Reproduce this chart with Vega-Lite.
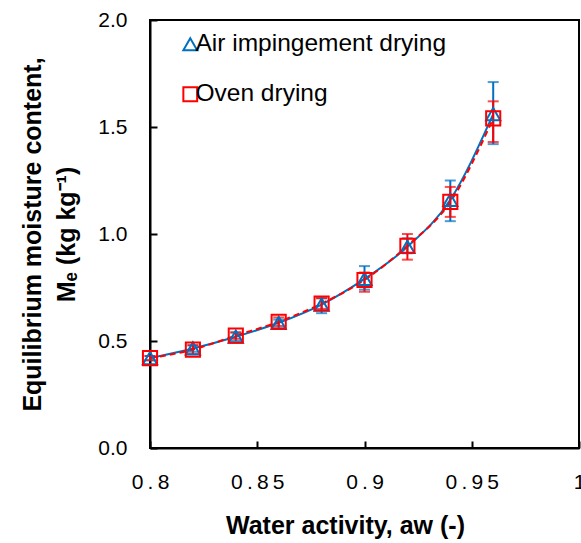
{
  "$schema": "https://vega.github.io/schema/vega-lite/v6.json",
  "width": 429,
  "height": 428,
  "autosize": "none",
  "padding": {"left": 150, "top": 20, "right": 2, "bottom": 95},
  "config": {
    "font": "Liberation Sans",
    "view": {"stroke": "black", "strokeWidth": 2},
    "axis": {
      "grid": false,
      "domainColor": "black",
      "domainWidth": 2,
      "tickColor": "black",
      "tickWidth": 2,
      "tickSize": -7,
      "labelFont": "Liberation Sans",
      "labelFontSize": 21,
      "labelColor": "black",
      "titleFont": "Liberation Sans",
      "titleFontSize": 25,
      "titleFontWeight": "bold",
      "titleColor": "black",
      "labelFlush": false,
      "labelOverlap": false
    },
    "legend": {
      "labelFont": "Liberation Sans",
      "labelFontSize": 24.5,
      "labelColor": "black",
      "labelLimit": 400,
      "symbolStrokeWidth": 2,
      "symbolSize": 190,
      "rowPadding": 25,
      "labelOffset": -7,
      "padding": 0
    }
  },
  "data": {
    "values": [
      {"aw": 0.80, "method": "Air impingement drying", "me": 0.42, "lo": 0.41, "hi": 0.43},
      {"aw": 0.82, "method": "Air impingement drying", "me": 0.465, "lo": 0.45, "hi": 0.48},
      {"aw": 0.84, "method": "Air impingement drying", "me": 0.52, "lo": 0.50, "hi": 0.54},
      {"aw": 0.86, "method": "Air impingement drying", "me": 0.585, "lo": 0.56, "hi": 0.60},
      {"aw": 0.88, "method": "Air impingement drying", "me": 0.67, "lo": 0.63, "hi": 0.70},
      {"aw": 0.90, "method": "Air impingement drying", "me": 0.79, "lo": 0.74, "hi": 0.85},
      {"aw": 0.92, "method": "Air impingement drying", "me": 0.94, "lo": 0.91, "hi": 0.98},
      {"aw": 0.94, "method": "Air impingement drying", "me": 1.16, "lo": 1.06, "hi": 1.25},
      {"aw": 0.96, "method": "Air impingement drying", "me": 1.56, "lo": 1.42, "hi": 1.71},
      {"aw": 0.80, "method": "Oven drying", "me": 0.42, "lo": 0.41, "hi": 0.43},
      {"aw": 0.82, "method": "Oven drying", "me": 0.46, "lo": 0.44, "hi": 0.48},
      {"aw": 0.84, "method": "Oven drying", "me": 0.525, "lo": 0.51, "hi": 0.54},
      {"aw": 0.86, "method": "Oven drying", "me": 0.59, "lo": 0.57, "hi": 0.61},
      {"aw": 0.88, "method": "Oven drying", "me": 0.675, "lo": 0.65, "hi": 0.70},
      {"aw": 0.90, "method": "Oven drying", "me": 0.785, "lo": 0.73, "hi": 0.82},
      {"aw": 0.92, "method": "Oven drying", "me": 0.945, "lo": 0.88, "hi": 1.00},
      {"aw": 0.94, "method": "Oven drying", "me": 1.15, "lo": 1.08, "hi": 1.22},
      {"aw": 0.96, "method": "Oven drying", "me": 1.54, "lo": 1.43, "hi": 1.62}
    ]
  },
  "encoding": {
    "x": {
      "field": "aw",
      "type": "quantitative",
      "scale": {"domain": [0.8, 1.0], "nice": false, "zero": false},
      "axis": {
        "values": [0.8, 0.85, 0.9, 0.95, 1.0],
        "labelExpr": "join(split(format(datum.value, '.2~f'), ''), '\u2009')",
        "labelPadding": 30,
        "title": "Water activity, aw (-)",
        "titlePadding": 21,
        "titleX": 195
      }
    }
  },
  "layer": [
    {
      "transform": [{"filter": "datum.method === 'Air impingement drying'"}],
      "mark": {"type": "line", "interpolate": "monotone", "strokeWidth": 2, "color": "#0070C0"},
      "encoding": {
        "y": {
          "field": "me",
          "type": "quantitative",
          "scale": {"domain": [0, 2], "nice": false},
          "axis": {
            "values": [0, 0.5, 1.0, 1.5, 2.0],
            "format": ".1f",
            "labelPadding": 30,
            "title": ["Equilibrium moisture content,", "Mₑ (kg kg⁻¹)"],
            "titlePadding": 18,
            "titleLineHeight": 34
          }
        }
      }
    },
    {
      "transform": [{"filter": "datum.method === 'Oven drying'"}],
      "mark": {"type": "line", "interpolate": "monotone", "strokeWidth": 2, "strokeDash": [6, 4], "color": "#FF0000"},
      "encoding": {
        "y": {"field": "me", "type": "quantitative"}
      }
    },
    {
      "mark": {"type": "rule", "strokeWidth": 2},
      "encoding": {
        "y": {"field": "lo", "type": "quantitative"},
        "y2": {"field": "hi"},
        "color": {"condition": {"test": "datum.method === 'Oven drying'", "value": "#FF0000"}, "value": "#0070C0"}
      }
    },
    {
      "mark": {"type": "tick", "orient": "horizontal", "size": 11, "thickness": 2},
      "encoding": {
        "y": {"field": "lo", "type": "quantitative"},
        "color": {"condition": {"test": "datum.method === 'Oven drying'", "value": "#FF0000"}, "value": "#0070C0"}
      }
    },
    {
      "mark": {"type": "tick", "orient": "horizontal", "size": 11, "thickness": 2},
      "encoding": {
        "y": {"field": "hi", "type": "quantitative"},
        "color": {"condition": {"test": "datum.method === 'Oven drying'", "value": "#FF0000"}, "value": "#0070C0"}
      }
    },
    {
      "mark": {"type": "point", "filled": false, "strokeWidth": 2, "size": 200, "opacity": 1},
      "encoding": {
        "y": {"field": "me", "type": "quantitative"},
        "stroke": {
          "field": "method",
          "type": "nominal",
          "scale": {"domain": ["Air impingement drying", "Oven drying"], "range": ["#0070C0", "#FF0000"]},
          "legend": {"title": null, "orient": "none", "legendX": 28, "legendY": 12}
        },
        "shape": {
          "field": "method",
          "type": "nominal",
          "scale": {"domain": ["Air impingement drying", "Oven drying"], "range": ["triangle-up", "square"]},
          "legend": {"title": null, "orient": "none", "legendX": 28, "legendY": 12}
        }
      }
    }
  ]
}
